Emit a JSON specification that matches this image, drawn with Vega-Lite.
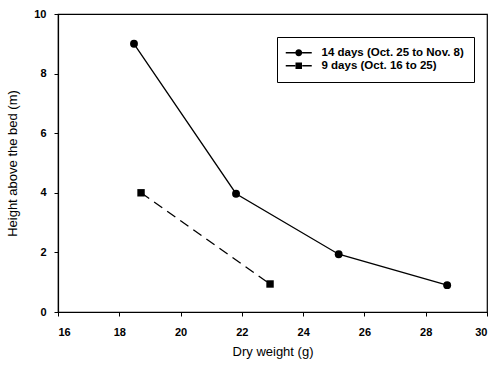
{
  "$schema": "https://vega.github.io/schema/vega-lite/v6.json",
  "width": 429,
  "height": 298,
  "autosize": {"type": "none"},
  "padding": {"left": 58, "top": 14, "right": 7, "bottom": 53},
  "background": "white",
  "data": {
    "values": [
      {"series": "14 days (Oct. 25 to Nov. 8)", "weight": 18.48, "height": 9.0},
      {"series": "14 days (Oct. 25 to Nov. 8)", "weight": 21.81, "height": 3.97},
      {"series": "14 days (Oct. 25 to Nov. 8)", "weight": 25.16, "height": 1.94},
      {"series": "14 days (Oct. 25 to Nov. 8)", "weight": 28.7, "height": 0.9},
      {"series": "9 days (Oct. 16 to 25)", "weight": 18.71, "height": 4.0},
      {"series": "9 days (Oct. 16 to 25)", "weight": 22.92, "height": 0.94}
    ]
  },
  "encoding": {
    "x": {
      "field": "weight", "type": "quantitative",
      "scale": {"domain": [16, 30], "nice": false, "zero": false},
      "axis": {"values": [16, 18, 20, 22, 24, 26, 28, 30], "title": "Dry weight (g)", "grid": false}
    },
    "y": {
      "field": "height", "type": "quantitative",
      "scale": {"domain": [0, 10], "nice": false},
      "axis": {"values": [0, 2, 4, 6, 8, 10], "title": "Height above the bed (m)", "grid": false}
    }
  },
  "layer": [
    {
      "transform": [{"filter": "datum.series === '14 days (Oct. 25 to Nov. 8)'"}],
      "mark": {"type": "line", "color": "black", "strokeWidth": 1.3}
    },
    {
      "transform": [{"filter": "datum.series === '9 days (Oct. 16 to 25)'"}],
      "mark": {"type": "line", "color": "black", "strokeWidth": 1.3, "strokeDash": [10, 6]}
    },
    {
      "transform": [{"filter": "datum.series === '14 days (Oct. 25 to Nov. 8)'"}],
      "mark": {"type": "point", "shape": "circle", "filled": true, "color": "black", "opacity": 1, "size": 62}
    },
    {
      "transform": [{"filter": "datum.series === '9 days (Oct. 16 to 25)'"}],
      "mark": {"type": "point", "shape": "square", "filled": true, "color": "black", "opacity": 1, "size": 55}
    },
    {
      "mark": {"type": "point", "filled": true, "color": "black", "opacity": 0, "size": 1},
      "encoding": {
        "shape": {
          "field": "series", "type": "nominal",
          "scale": {
            "domain": ["14 days (Oct. 25 to Nov. 8)", "9 days (Oct. 16 to 25)"],
            "range": [
              "M-2.6,-0.13H-0.69V0.13H-2.6Z M0.69,-0.13H2.6V0.13H0.69Z M-0.7,0A0.7,0.7,0,1,0,0.7,0A0.7,0.7,0,1,0,-0.7,0Z",
              "M-2.6,-0.13H-0.7V0.13H-2.6Z M0.7,-0.13H2.6V0.13H0.7Z M-0.65,-0.65H0.65V0.65H-0.65Z"
            ]
          },
          "legend": {
            "title": null,
            "orient": "none",
            "legendX": 219,
            "legendY": 23,
            "strokeColor": "black",
            "padding": 10,
            "fillColor": "white",
            "symbolSize": 100,
            "symbolOffset": 6,
            "symbolOpacity": 1,
            "symbolStrokeWidth": 0,
            "symbolFillColor": "black",
            "labelFont": "Liberation Sans",
            "labelFontSize": 11.5,
            "labelFontWeight": "bold",
            "labelColor": "black",
            "rowPadding": 0,
            "labelOffset": 17
          }
        }
      }
    }
  ],
  "config": {
    "view": {"stroke": "black", "strokeWidth": 1.2},
    "axis": {
      "domainColor": "black",
      "domainWidth": 1.2,
      "tickColor": "black",
      "tickSize": 4,
      "labelFont": "Liberation Sans",
      "labelFontSize": 11,
      "labelFontWeight": "bold",
      "labelColor": "black",
      "titleFont": "Liberation Sans",
      "titleFontSize": 13,
      "titleFontWeight": "normal",
      "titleColor": "black"
    },
    "axisX": {"labelPadding": 10, "titlePadding": 8},
    "axisY": {"labelPadding": 8, "titlePadding": 14}
  }
}
